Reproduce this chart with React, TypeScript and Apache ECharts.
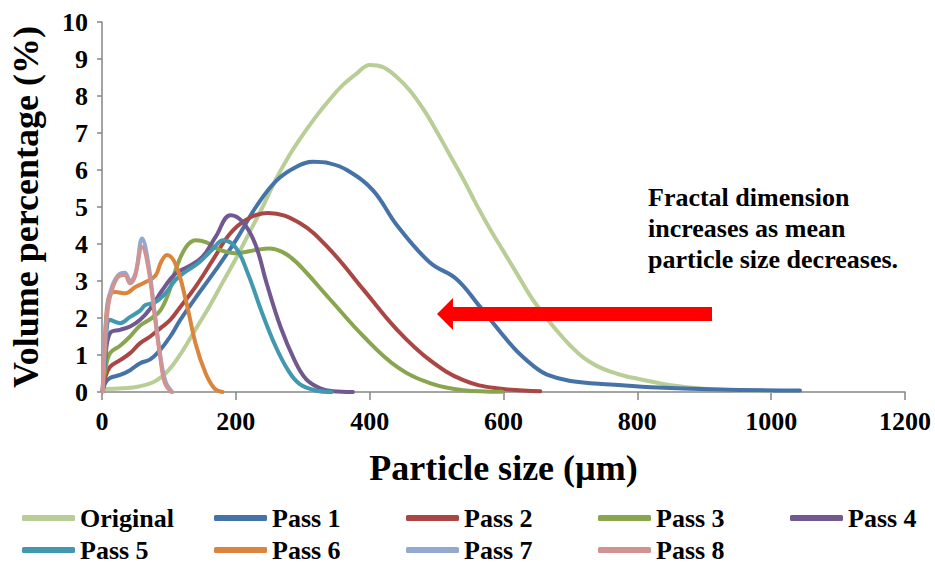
import React, { useEffect, useRef } from "react";
import * as echarts from "echarts";

const FONT = '"Liberation Serif", "Times New Roman", serif';

const SERIES_NAMES = ["Original", "Pass 1", "Pass 2", "Pass 3", "Pass 4", "Pass 5", "Pass 6", "Pass 7", "Pass 8"];
const COLORS = ["#B9CD96", "#4572A7", "#AA4643", "#89A54E", "#71588F", "#4198AF", "#DB843D", "#93A9CF", "#D19392"];

// [particle size (µm), volume percentage (%)]
const original = [[3, 0.08], [30, 0.1], [55, 0.15], [80, 0.3], [100, 0.6], [120, 1.1], [140, 1.7], [160, 2.3], [180, 2.95], [200, 3.6], [220, 4.3], [240, 5.0], [260, 5.75], [280, 6.4], [300, 6.95], [320, 7.45], [340, 7.9], [360, 8.3], [380, 8.6], [400, 8.84], [420, 8.78], [440, 8.52], [460, 8.15], [480, 7.65], [500, 7.05], [520, 6.4], [540, 5.75], [560, 5.05], [580, 4.4], [600, 3.8], [620, 3.2], [640, 2.6], [660, 2.1], [680, 1.65], [700, 1.25], [720, 0.92], [740, 0.7], [760, 0.55], [780, 0.44], [800, 0.36], [850, 0.18], [900, 0.09], [950, 0.05], [1000, 0.03]];
const pass1 = [[1, 0.02], [5, 0.25], [12, 0.38], [27, 0.46], [42, 0.59], [57, 0.78], [72, 0.88], [87, 1.14], [102, 1.5], [117, 1.95], [140, 2.55], [170, 3.3], [200, 4.1], [230, 5.0], [260, 5.7], [290, 6.08], [316, 6.22], [340, 6.18], [366, 6.0], [405, 5.45], [441, 4.5], [490, 3.5], [530, 3.05], [565, 2.3], [615, 1.2], [645, 0.7], [665, 0.47], [700, 0.3], [760, 0.2], [820, 0.13], [920, 0.07], [1043, 0.04]];
const pass2 = [[1, 0.02], [5, 0.4], [12, 0.68], [27, 0.86], [42, 1.05], [57, 1.32], [72, 1.5], [87, 1.72], [102, 1.95], [115, 2.25], [140, 2.85], [165, 3.55], [190, 4.25], [215, 4.65], [248, 4.84], [296, 4.56], [341, 3.84], [391, 2.76], [441, 1.68], [490, 0.86], [540, 0.32], [590, 0.1], [655, 0.02]];
const pass3 = [[1, 0.02], [5, 0.6], [12, 1.05], [27, 1.25], [42, 1.5], [57, 1.8], [72, 1.97], [87, 2.2], [100, 2.7], [110, 3.3], [125, 3.9], [140, 4.1], [155, 4.05], [175, 3.85], [200, 3.75], [230, 3.84], [250, 3.88], [270, 3.78], [291, 3.5], [341, 2.5], [391, 1.5], [441, 0.68], [490, 0.24], [540, 0.05], [598, 0.01]];
const pass4 = [[1, 0.02], [5, 0.9], [12, 1.59], [27, 1.68], [42, 1.77], [57, 1.95], [72, 2.25], [90, 2.75], [110, 3.2], [130, 3.4], [150, 3.65], [170, 4.2], [192, 4.78], [210, 4.6], [229, 4.0], [246, 2.94], [267, 1.75], [288, 0.85], [305, 0.35], [326, 0.1], [345, 0.02], [375, 0]];
const pass5 = [[1, 0.02], [5, 1.0], [12, 1.95], [27, 1.86], [42, 2.03], [57, 2.2], [65, 2.35], [80, 2.43], [95, 2.67], [110, 3.03], [125, 3.25], [145, 3.5], [165, 3.85], [181, 4.1], [200, 3.9], [218, 3.2], [239, 2.15], [259, 1.25], [278, 0.59], [295, 0.22], [320, 0.04], [343, 0]];
const pass6 = [[1, 0.02], [4, 1.2], [7, 2.2], [12, 2.65], [20, 2.7], [35, 2.67], [50, 2.84], [65, 2.97], [80, 3.15], [88, 3.5], [97, 3.7], [110, 3.45], [125, 2.5], [140, 1.3], [155, 0.5], [168, 0.1], [180, 0]];
const pass7 = [[1, 0.02], [4, 1.3], [9, 2.4], [15, 2.85], [24, 3.15], [34, 3.22], [42, 3.0], [50, 3.2], [60, 4.15], [69, 3.5], [79, 2.1], [87, 1.0], [95, 0.28], [105, 0]];
const pass8 = [[1, 0.02], [4, 1.14], [9, 2.3], [15, 2.76], [24, 3.11], [34, 3.16], [42, 2.94], [49, 3.11], [60, 3.92], [69, 3.38], [79, 2.03], [87, 0.95], [94, 0.24], [104, 0]];

const SERIES_DATA = [original, pass1, pass2, pass3, pass4, pass5, pass6, pass7, pass8];

const ANNOTATION = "Fractal dimension\nincreases as mean\nparticle size decreases.";

const LEGEND_COL_X = [22, 214, 406, 598, 790];
const LEGEND_ROW_Y = [505, 537];

export default function App() {
  const ref = useRef<HTMLDivElement>(null);

  useEffect(() => {
    if (!ref.current) return;
    const chart = echarts.init(ref.current, undefined, { renderer: "svg" });

    const axisLabelStyle = { fontFamily: FONT, fontWeight: "bold" as const, fontSize: 26, color: "#000" };
    const nameStyle = { fontFamily: FONT, fontWeight: "bold" as const, fontSize: 36, color: "#000" };

    const option: any = {
      animation: false,
      grid: { left: 102, top: 22, right: 30, bottom: 172, containLabel: false },
      xAxis: {
        type: "value",
        min: 0,
        max: 1200,
        interval: 200,
        axisLine: { show: true, lineStyle: { color: "#868686", width: 1.5 } },
        axisTick: { show: true, inside: false, length: 8, lineStyle: { color: "#868686", width: 1.5 } },
        splitLine: { show: false },
        axisLabel: { ...axisLabelStyle, margin: 16, formatter: (v: number) => String(v) },
        name: "Particle size (µm)",
        nameLocation: "middle",
        nameGap: 58,
        nameTextStyle: nameStyle,
      },
      yAxis: {
        type: "value",
        min: 0,
        max: 10,
        interval: 1,
        axisLine: { show: true, lineStyle: { color: "#868686", width: 1.5 } },
        axisTick: { show: true, inside: false, length: 5, lineStyle: { color: "#868686", width: 1.5 } },
        splitLine: { show: false },
        axisLabel: { ...axisLabelStyle, margin: 14, formatter: (v: number) => String(v) },
        name: "Volume percentage (%)",
        nameLocation: "middle",
        nameGap: 58,
        nameTextStyle: nameStyle,
      },
      legend: SERIES_NAMES.map((n, i) => ({
        data: [n],
        left: LEGEND_COL_X[i % 5],
        top: LEGEND_ROW_Y[Math.floor(i / 5)],
        icon: "roundRect",
        itemWidth: 53,
        itemHeight: 6,
        padding: 0,
        selectedMode: false,
        textStyle: { fontFamily: FONT, fontWeight: "bold", fontSize: 26, color: "#000", lineHeight: 22 },
      })),
      series: SERIES_NAMES.map((n, i) => ({
        name: n,
        type: "line",
        data: SERIES_DATA[i],
        smooth: 0.4,
        showSymbol: false,
        symbol: "none",
        color: COLORS[i],
        lineStyle: { color: COLORS[i], width: 4, cap: "round", join: "round" },
        z: 2 + i,
      })),
      graphic: [
        {
          type: "polygon",
          z: 100,
          shape: {
            points: [[437, 314], [453, 298], [453, 307], [712, 307], [712, 321], [453, 321], [453, 330]],
          },
          style: { fill: "#FF0000" },
        },
        {
          type: "text",
          z: 100,
          left: 648,
          top: 182,
          style: {
            text: ANNOTATION,
            fontFamily: FONT,
            fontWeight: "bold",
            fontSize: 26,
            lineHeight: 31,
            fill: "#000",
          },
        },
      ],
    };

    chart.setOption(option);
    return () => chart.dispose();
  }, []);

  return (
    <div
      ref={ref}
      style={{ position: "fixed", left: 0, top: 0, width: 935, height: 564, background: "#fff" }}
    />
  );
}
